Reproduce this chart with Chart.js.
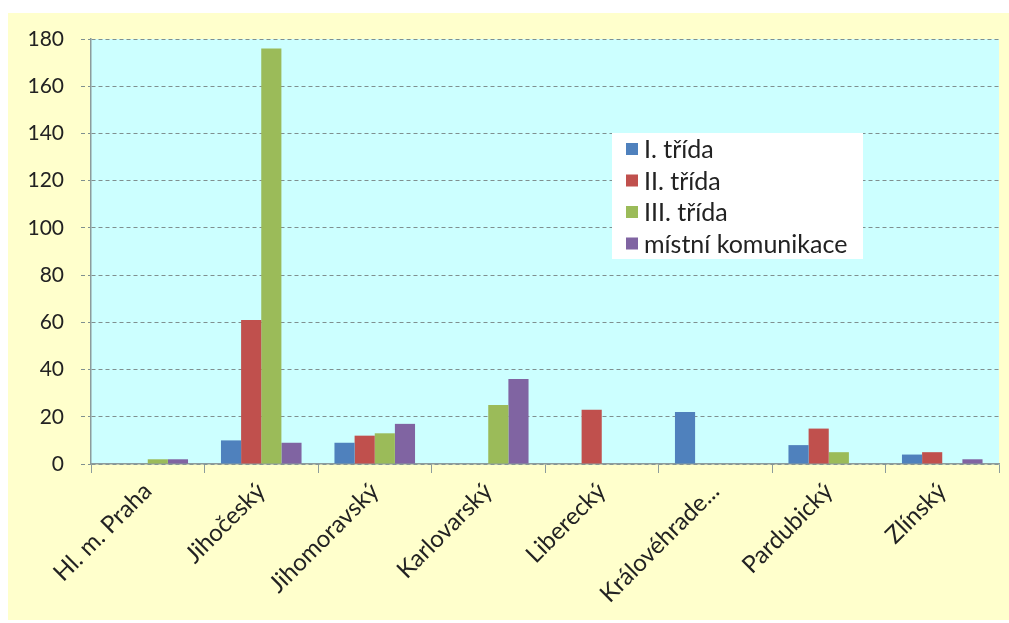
<!DOCTYPE html>
<html lang="cs">
<head>
  <meta charset="UTF-8" />
  <title>Nehody podle krajů</title>
  <script src="https://cdn.jsdelivr.net/npm/chart.js"></script>
  <style>
    body { margin: 0; background: #ffffff; }
    .panel {
      position: absolute;
      left: 8px; top: 13px;
      width: 1001px; height: 607px;
      background: #ffffcc;
    }
  </style>
</head>
<body>
  <div class="panel">
    <canvas id="roadChart"></canvas>
  </div>

  <script>
    const regions = ["Hl. m. Praha", "Jihočeský", "Jihomoravský", "Karlovarský",
                     "Liberecký", "Královéhrade...", "Pardubický", "Zlínský"];
    const seriesNames = ["I. třída", "II. třída", "III. třída", "místní komunikace"];
    const trida1 = [0, 10, 9, 0, 0, 22, 8, 4];
    const trida2 = [0, 61, 12, 0, 23, 0, 15, 5];
    const trida3 = [2, 176, 13, 25, 0, 0, 5, 0];
    const mistni = [2, 9, 17, 36, 0, 0, 0, 2];
    const yTicks = [0, 20, 40, 60, 80, 100, 120, 140, 160, 180];
    const colors = ["#4f81bd", "#c0504d", "#9bbb59", "#8064a2"];

    const FONT = "Lato, 'Open Sans', sans-serif";

    // cyan plot area behind the bars
    const plotBg = {
      id: "plotBg",
      beforeDraw(chart) {
        const { ctx, chartArea: a } = chart;
        ctx.save();
        ctx.fillStyle = "#ccffff";
        ctx.fillRect(a.left, a.top, a.right - a.left, a.bottom - a.top);
        ctx.restore();
      }
    };

    // white legend box sitting inside the plot
    const boxLegend = {
      id: "boxLegend",
      afterDraw(chart) {
        const { ctx, chartArea: a } = chart;
        const x = a.left + 521, y = a.top + 94, w = 251, h = 126;
        ctx.save();
        ctx.fillStyle = "#ffffff";
        ctx.fillRect(x, y, w, h);
        ctx.font = "25px " + FONT;
        ctx.textBaseline = "middle";
        chart.data.datasets.forEach((ds, i) => {
          const cy = y + 16 + i * 31.5;
          ctx.fillStyle = ds.backgroundColor;
          ctx.fillRect(x + 14, cy - 6, 12, 12);
          ctx.fillStyle = "#222222";
          ctx.fillText(ds.label, x + 32, cy + 1);
        });
        ctx.restore();
      }
    };

    const values = [trida1, trida2, trida3, mistni];

    new Chart(document.getElementById("roadChart"), {
      type: "bar",
      data: {
        labels: regions,
        datasets: seriesNames.map((name, i) => ({
          label: name,
          data: values[i],
          backgroundColor: colors[i],
          barPercentage: 1.0,
          categoryPercentage: 0.71
        }))
      },
      options: {
        responsive: true,
        maintainAspectRatio: false,
        animation: false,
        layout: { padding: { left: 0, top: 26, right: 10, bottom: 0 } },
        plugins: {
          legend: { display: false },
          tooltip: { enabled: false }
        },
        scales: {
          x: {
            grid: {
              offset: true,
              drawOnChartArea: false,
              drawTicks: true,
              tickLength: 9,
              color: "#8c9c9c"
            },
            border: { color: "#8c9c9c", width: 1.5 },
            ticks: {
              color: "#222222",
              font: { family: FONT, size: 24 },
              minRotation: 45,
              maxRotation: 45,
              autoSkip: false,
              padding: 4
            },
            afterFit(scale) { scale.height = 156; }
          },
          y: {
            min: 0,
            max: 180,
            afterBuildTicks(scale) { scale.ticks = yTicks.map(v => ({ value: v })); },
            grid: {
              color: "#7f8f8f",
              tickLength: 10,
              tickColor: "#7f8f8f",
              tickBorderDash: [4, 3]
            },
            border: { color: "#8c9c9c", width: 1.5, dash: [4, 3] },
            ticks: {
              color: "#222222",
              font: { family: FONT, size: 21 },
              padding: 17
            },
            afterFit(scale) {
              scale.width = 83;
              scale.paddingTop = 0;
              scale.paddingBottom = 0;
            }
          }
        }
      },
      plugins: [plotBg, boxLegend]
    });
  </script>
</body>
</html>
